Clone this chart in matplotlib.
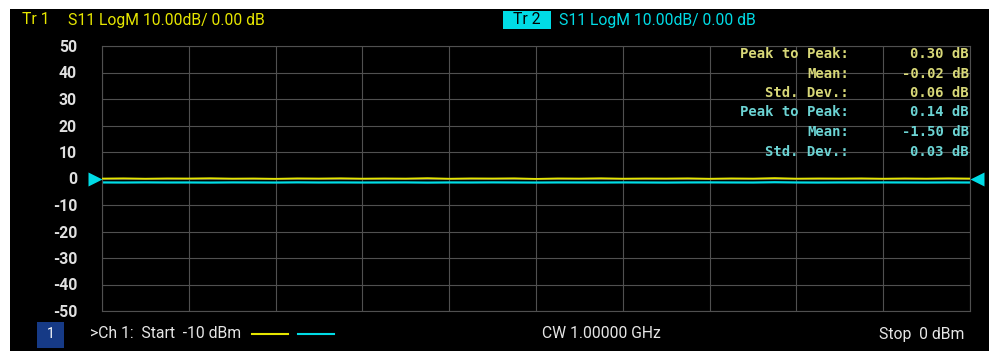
import numpy as np
import matplotlib.pyplot as plt
from matplotlib.patches import Rectangle

# barrido de potencia CW: -10 dBm a 0 dBm
start_dbm = -10
stop_dbm = 0

# traza 1 (amarilla) y traza 2 (cian), S11 en dB
tr1_db = [-0.03, 0.05, -0.08, 0.02, -0.01, 0.09, -0.05, 0.00, -0.12, 0.04,
          -0.02, 0.07, -0.06, 0.01, -0.04, 0.12, -0.09, 0.03, -0.01, 0.06,
          -0.15, 0.02, -0.03, 0.08, -0.07, 0.00, -0.02, 0.05, -0.10, 0.03,
          -0.04, 0.15, -0.06, 0.01, -0.02, 0.04, -0.08, 0.02, -0.05, 0.06,
          -0.03]
tr2_db = [-1.49, -1.52, -1.47, -1.51, -1.50, -1.54, -1.48, -1.50, -1.53, -1.46,
          -1.51, -1.49, -1.52, -1.50, -1.48, -1.55, -1.49, -1.51, -1.47, -1.50,
          -1.53, -1.49, -1.50, -1.52, -1.48, -1.51, -1.54, -1.49, -1.47, -1.50,
          -1.52, -1.41, -1.50, -1.53, -1.49, -1.51, -1.48, -1.50, -1.52, -1.49,
          -1.51]

y_ticks = [50, 40, 30, 20, 10, 0, -10, -20, -30, -40, -50]
stat_names = ["Peak to Peak:", "Mean:", "Std. Dev.:"]
tr1_stats = ["0.30 dB", "-0.02 dB", "0.06 dB"]
tr2_stats = ["0.14 dB", "-1.50 dB", "0.03 dB"]

YEL = "#e6e600"
CYN = "#00dce6"
YEL_TXT = "#d8d878"
CYN_TXT = "#6cd4d4"
GRID = "#505050"
FS = 11.3

W, H = 989, 351
fig = plt.figure(figsize=(W / 100, H / 100), dpi=100)
fig.patch.set_facecolor("white")


def px(x, y):
    # pixeles de pantalla -> fraccion de figura
    return x / W, 1 - y / H


# fondo negro de la pantalla del analizador
fig.patches.append(Rectangle(px(10, 351), (W - 10) / W, (351 - 9) / H,
                             transform=fig.transFigure, facecolor="black",
                             edgecolor="none", zorder=-10))

left, top, right, bottom = 102, 46, 970, 311
ax = fig.add_axes([left / W, 1 - bottom / H, (right - left) / W, (bottom - top) / H])
ax.set_zorder(1)
ax.set_facecolor("black")

x = np.linspace(start_dbm, stop_dbm, len(tr1_db))
ax.plot(x, tr1_db, color=YEL, lw=1.3, zorder=3)
ax.plot(x, tr2_db, color=CYN, lw=1.6, zorder=2)

ax.set_xlim(start_dbm, stop_dbm)
ax.set_ylim(-50, 50)
ax.set_xticks(np.linspace(start_dbm, stop_dbm, 11))
ax.set_xticklabels([])
ax.set_yticks(y_ticks)
ax.set_yticklabels([str(v) for v in y_ticks], fontfamily="Roboto",
                   fontweight="bold", fontsize=FS, color="#e0e0e0")
ax.tick_params(length=0, pad=18)
ax.grid(True, color=GRID, lw=0.8)
for s in ax.spines.values():
    s.set_color(GRID)
    s.set_linewidth(0.8)

# marcadores de referencia (0 dB) en ambos extremos
trans = ax.get_yaxis_transform()
ax.plot([-0.008], [0], marker=">", ms=10, color=CYN, mec="none",
        transform=trans, clip_on=False, zorder=5)
ax.plot([1.008], [0], marker="<", ms=10, color=CYN, mec="none",
        transform=trans, clip_on=False, zorder=5)

# estadisticas de las trazas
mono = "DejaVu Sans Mono"
rows = [(n, v, YEL_TXT) for n, v in zip(stat_names, tr1_stats)] + \
       [(n, v, CYN_TXT) for n, v in zip(stat_names, tr2_stats)]
for i, (name, val, col) in enumerate(rows):
    yy = 54 + i * 19.5
    fig.text(*px(849, yy), name, ha="right", va="center", fontweight="bold",
             fontfamily=mono, fontsize=10, color=col, zorder=6)
    fig.text(*px(969, yy), val, ha="right", va="center", fontweight="bold",
             fontfamily=mono, fontsize=10, color=col, zorder=6)

# cabecera
fig.text(*px(22, 20), "Tr 1", color=YEL, fontfamily="Roboto", fontsize=FS, va="center")
fig.text(*px(68, 20), "S11 LogM 10.00dB/ 0.00 dB", color=YEL,
         fontfamily="Roboto", fontsize=FS, va="center")
fig.patches.append(Rectangle(px(503, 29), 48 / W, 18 / H, transform=fig.transFigure,
                             facecolor=CYN, edgecolor="none", zorder=1))
fig.text(*px(527, 20), "Tr 2", color="black", fontfamily="Roboto", fontsize=FS,
         va="center", ha="center", zorder=2)
fig.text(*px(559, 20), "S11 LogM 10.00dB/ 0.00 dB", color=CYN,
         fontfamily="Roboto", fontsize=FS, va="center")

# barra inferior
fig.patches.append(Rectangle(px(37, 348), 27 / W, 26 / H, transform=fig.transFigure,
                             facecolor="#163a86", edgecolor="none", zorder=1))
fig.text(*px(50.5, 334), "1", color="white", fontfamily="Roboto", fontsize=10,
         va="center", ha="center", zorder=2)
fig.text(*px(90, 334), ">Ch 1:  Start  -10 dBm", color="#e6e6e6",
         fontfamily="Roboto", fontsize=FS, va="center")
fig.lines.append(plt.Line2D([252 / W, 288 / W], [1 - 334 / H] * 2, color=YEL,
                            lw=1.5, transform=fig.transFigure))
fig.lines.append(plt.Line2D([298 / W, 334 / W], [1 - 334 / H] * 2, color=CYN,
                            lw=1.5, transform=fig.transFigure))
fig.text(*px(542, 334), "CW 1.00000 GHz", color="#e6e6e6",
         fontfamily="Roboto", fontsize=FS, va="center")
fig.text(*px(964, 334), "Stop  0 dBm", color="#e6e6e6",
         fontfamily="Roboto", fontsize=FS, va="center", ha="right")

fig.savefig("out.png", dpi=100, facecolor=fig.get_facecolor())
